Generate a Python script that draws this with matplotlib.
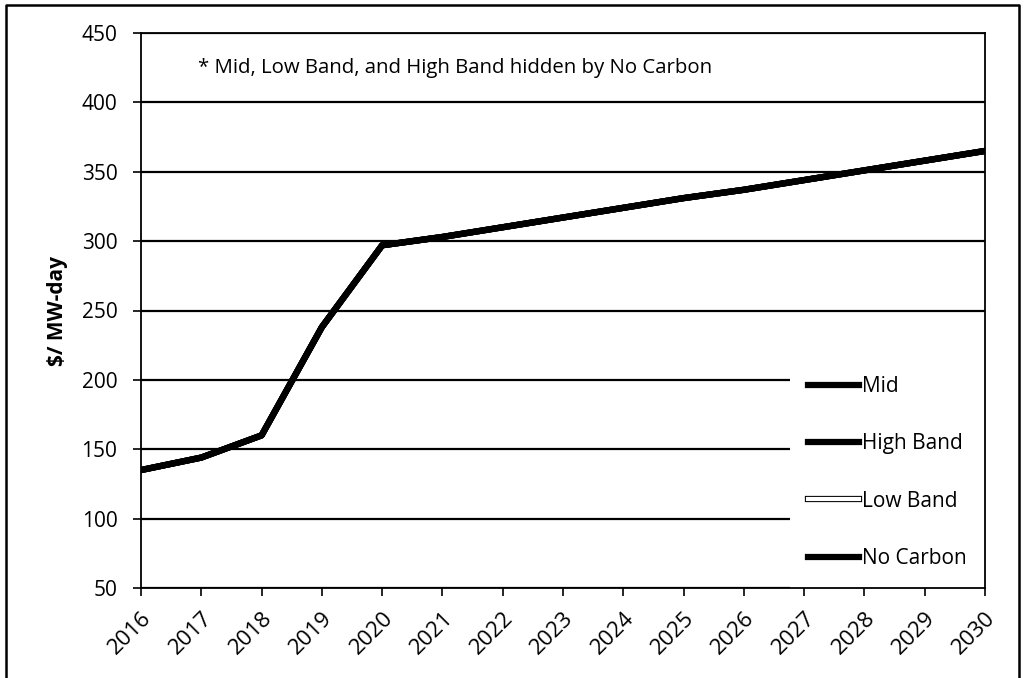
import numpy as np
import matplotlib.pyplot as plt
import matplotlib.patheffects as pe
from matplotlib.lines import Line2D

plt.rcParams['font.family'] = ['Open Sans', 'DejaVu Sans']

# Capacity price by year ($/MW-day); all four cases share the same path
years = np.arange(2016, 2031)
no_carbon = [135, 144, 160, 238, 297, 303, 310, 317, 324, 331, 337, 344, 351, 358, 365]
mid = list(no_carbon)
high_band = list(no_carbon)
low_band = list(no_carbon)

fig = plt.figure(figsize=(10.25, 6.78), dpi=100)
ax = fig.add_axes([141 / 1025, 1 - 588 / 678, 844 / 1025, 555 / 678])

# outer frame around the whole picture
fig.add_artist(Line2D([6 / 1025, 6 / 1025, 1019 / 1025, 1019 / 1025],
                      [-0.01, 1 - 5 / 678, 1 - 5 / 678, -0.01],
                      transform=fig.transFigure, color='black', lw=1.8))

ax.plot(years, mid, color='black', lw=4.5, label='Mid', zorder=3)
ax.plot(years, high_band, color='black', lw=4.5, label='High Band', zorder=3)
ax.plot(years, low_band, color='white', lw=3, label='Low Band', zorder=3,
        path_effects=[pe.Stroke(linewidth=4.5, foreground='black'), pe.Normal()])
ax.plot(years, no_carbon, color='black', lw=4.5, label='No Carbon', zorder=4)

ax.set_xlim(2016, 2030)
ax.set_ylim(50, 450)
ax.set_xticks(years)
ax.set_yticks(np.arange(50, 451, 50))
ax.set_xticklabels([str(y) for y in years], rotation=45, ha='right',
                   rotation_mode='anchor', fontsize=16)
ax.tick_params(axis='y', labelsize=15, length=6, width=1.2, direction='out', pad=11)
ax.tick_params(axis='x', length=6, width=1.2, direction='out', pad=8)
ax.yaxis.grid(True, color='black', lw=1.6)
ax.set_axisbelow(True)
for s in ax.spines.values():
    s.set_linewidth(1.3)

ax.set_ylabel('$/ MW-day', fontsize=15, fontweight='bold', labelpad=10)

ax.text(2016.95, 425, '* Mid, Low Band, and High Band hidden by No Carbon',
        fontsize=14.7, va='center', ha='left')

leg = ax.legend(loc='lower right', bbox_to_anchor=(1.0, 0.0), fontsize=15,
                frameon=True, fancybox=False, framealpha=1, edgecolor='none',
                handlelength=2.45, handletextpad=0.1, labelspacing=1.75,
                borderpad=0.9, borderaxespad=0.0)
leg.get_frame().set_facecolor('white')
leg.set_zorder(2)

fig.savefig('out.png', dpi=100)
